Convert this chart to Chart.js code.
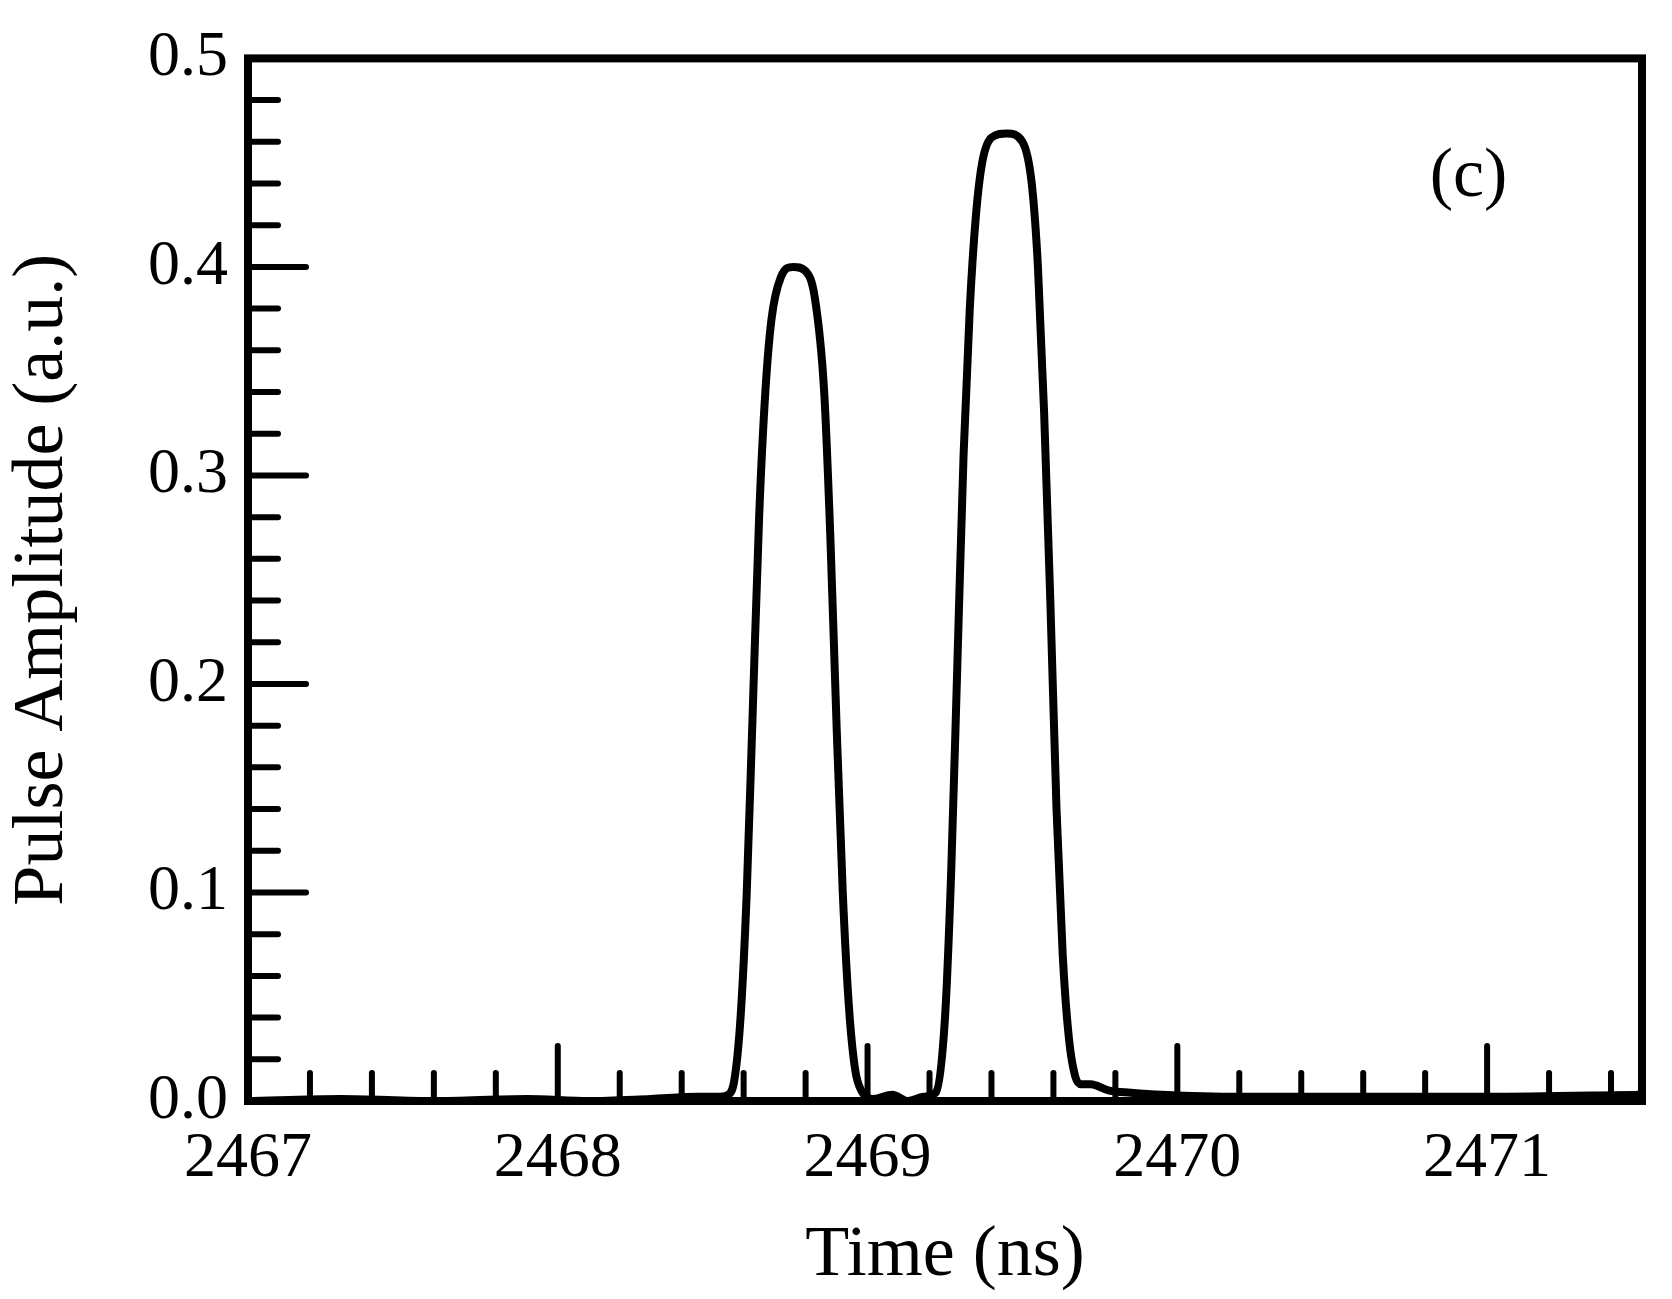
<!DOCTYPE html>
<html>
<head>
<meta charset="utf-8">
<script src="https://cdn.jsdelivr.net/npm/chart.js@4"></script>
<style>
  body { margin: 0; background: #fff; }
  #wrap { width: 1672px; height: 1299px; }
</style>
</head>
<body>
<div id="wrap"><canvas id="pulse"></canvas></div>
<script>
// time (ns) and amplitude
const timeNs = [2467.0, 2467.3, 2467.6, 2467.9, 2468.1, 2468.3, 2468.45, 2468.52, 2468.55, 2468.57,
    2468.59, 2468.61, 2468.63, 2468.65, 2468.67, 2468.69, 2468.72, 2468.76, 2468.8, 2468.83,
    2468.86, 2468.88, 2468.9, 2468.92, 2468.94, 2468.96, 2468.98, 2469.02, 2469.08, 2469.13, 2469.18,
    2469.22, 2469.25, 2469.27, 2469.29, 2469.31, 2469.33, 2469.35, 2469.37, 2469.4, 2469.45,
    2469.5, 2469.53, 2469.55, 2469.57, 2469.59, 2469.61, 2469.63, 2469.65, 2469.67, 2469.69, 2469.72,
    2469.78, 2469.85, 2469.95, 2470.2, 2470.6, 2471.0, 2471.5];
const amplitude = [0.0, 0.001, 0.0, 0.001, 0.0, 0.001, 0.002, 0.002, 0.003, 0.01,
    0.04, 0.1, 0.19, 0.28, 0.34, 0.375, 0.395, 0.4, 0.398, 0.385,
    0.34, 0.27, 0.18, 0.1, 0.045, 0.015, 0.005, 0.001, 0.003, 0.0, 0.002,
    0.004, 0.04, 0.11, 0.21, 0.31, 0.38, 0.425, 0.45, 0.462, 0.464,
    0.46, 0.44, 0.4, 0.33, 0.24, 0.14, 0.07, 0.03, 0.012, 0.008, 0.008,
    0.005, 0.004, 0.003, 0.002, 0.002, 0.002, 0.003];

const xMin = 2467, xMax = 2471.5, xMajor = 1, xMinor = 0.2;
const yMin = 0, yMax = 0.5, yMajor = 0.1, yMinor = 0.02;
const serif = 'Liberation Serif';

// inward ticks plus the heavy frame
const frameTicks = {
    id: 'frameTicks',
    afterDraw(chart) {
        const ctx = chart.ctx, a = chart.chartArea;
        const xs = chart.scales.x, ys = chart.scales.y;
        ctx.save();
        ctx.strokeStyle = '#000';
        ctx.lineCap = 'round';
        ctx.lineWidth = 6;
        for (let i = 0; xMin + i * xMinor <= xMax + 1e-9; i++) {
            const v = xMin + i * xMinor;
            const major = Math.abs(v - Math.round(v)) < 1e-6;
            const px = xs.getPixelForValue(v);
            ctx.beginPath();
            ctx.moveTo(px, a.bottom);
            ctx.lineTo(px, a.bottom - (major ? 55 : 28));
            ctx.stroke();
        }
        for (let i = 0; yMin + i * yMinor <= yMax + 1e-9; i++) {
            const v = yMin + i * yMinor;
            const major = i % 5 === 0;
            const py = ys.getPixelForValue(v);
            ctx.beginPath();
            ctx.moveTo(a.left, py);
            ctx.lineTo(a.left + (major ? 58 : 30), py);
            ctx.stroke();
        }
        ctx.lineWidth = 8;
        ctx.lineCap = 'butt';
        ctx.strokeRect(a.left, a.top, a.right - a.left, a.bottom - a.top);
        ctx.fillStyle = '#000';
        ctx.font = '70px "' + serif + '"';
        ctx.textAlign = 'center';
        ctx.textBaseline = 'middle';
        ctx.fillText('(c)', xs.getPixelForValue(2470.94), ys.getPixelForValue(0.443));
        ctx.restore();
    }
};

new Chart(document.getElementById('pulse'), {
    type: 'line',
    data: {
        datasets: [{
            data: timeNs.map((t, i) => ({ x: t, y: amplitude[i] })),
            borderColor: '#000',
            borderWidth: 8,
            pointRadius: 0,
            cubicInterpolationMode: 'monotone',
            fill: false,
        }]
    },
    options: {
        responsive: true,
        maintainAspectRatio: false,
        animation: false,
        layout: { padding: { top: 40, right: 30, left: 0, bottom: 0 } },
        plugins: { legend: { display: false }, tooltip: { enabled: false } },
        scales: {
            x: {
                type: 'linear',
                min: xMin,
                max: xMax,
                afterBuildTicks: s => { s.ticks = [2467, 2468, 2469, 2470, 2471].map(v => ({ value: v })); },
                afterFit: s => { s.height = 198; },
                grid: { display: false, drawTicks: false },
                border: { display: false },
                ticks: { color: '#000', padding: 20, font: { family: serif, size: 64 }, callback: v => String(v) },
                title: { display: true, text: 'Time (ns)', color: '#000', padding: { top: -12, bottom: 0 }, font: { family: serif, size: 72 } },
            },
            y: {
                min: yMin,
                max: yMax,
                afterBuildTicks: s => { s.ticks = [0, 0.1, 0.2, 0.3, 0.4, 0.5].map(v => ({ value: v })); },
                afterFit: s => { s.width = 248; },
                grid: { display: false, drawTicks: false },
                border: { display: false },
                ticks: { color: '#000', padding: 20, font: { family: serif, size: 64 }, callback: v => v.toFixed(1) },
                title: { display: true, text: 'Pulse Amplitude (a.u.)', color: '#000', padding: 0, font: { family: serif, size: 72 } },
            }
        }
    },
    plugins: [frameTicks]
});
</script>
</body>
</html>
